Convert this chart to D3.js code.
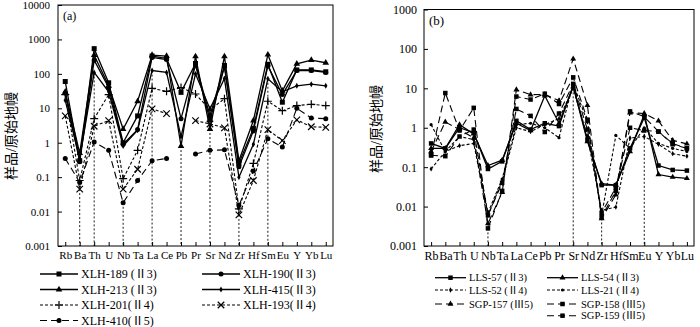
<!DOCTYPE html>
<html>
<head>
<meta charset="utf-8">
<script src="https://cdn.jsdelivr.net/npm/d3@7"></script>
<style>
  body { margin: 0; background: #fff; }
  svg text { font-family: "Liberation Serif", "Noto Sans CJK SC", serif; fill: #000; }
</style>
</head>
<body>
<div id="chart"></div>
<script>
// trace elements on the x axis (same for both panels)
const elements = ["Rb","Ba","Th","U","Nb","Ta","La","Ce","Pb","Pr","Sr","Nd","Zr","Hf","Sm","Eu","Y","Yb","Lu"];

const yTicksA = [0.001, 0.01, 0.1, 1, 10, 100, 1000, 10000];
const yTicksB = [0.001, 0.01, 0.1, 1, 10, 100, 1000];

// panel (a) samples
const xlh189 = [60,0.3,540,55,1.0,6,330,280,29,200,6,175,0.25,2.6,190,15,130,130,115];
const xlh190 = [28,0.28,250,40,0.9,2.4,300,260,5,180,4.5,160,0.2,2.2,170,25,125,125,110];
const xlh213 = [30,0.5,350,45,2.5,16,350,330,0.8,320,2.5,320,0.3,4.4,360,32,195,250,210];
const xlh415 = [17,0.35,110,30,0.8,2.3,125,110,1.5,100,9.6,73,0.1,0.9,72,30,45,50,45];
const xlh201 = [25,0.08,5,25,0.09,0.6,38,31,40,26,9,19,0.012,0.25,16,8.5,12,13,12];
const xlh193 = [6,0.045,3,4.4,0.045,0.17,9.6,7,null,4.4,3.5,2.7,0.008,0.08,2.4,1.15,4.6,2.9,2.8];
const xlh410 = [0.35,0.07,1.05,0.6,0.018,0.08,0.3,0.35,null,0.47,0.6,0.62,0.015,0.15,1.3,0.75,10,5.2,5];

// panel (b) samples
const lls57  = [0.4,0.3,1.0,0.75,0.09,0.14,1.5,0.9,1.3,1.1,12,0.5,0.035,0.035,0.3,1.8,0.11,0.085,0.082];
const lls54  = [0.3,0.3,1.2,0.7,0.11,0.15,1.3,0.85,6.5,1.3,11,0.45,0.038,0.035,0.25,2.2,0.065,0.056,0.052];
const lls52  = [0.09,0.25,0.35,0.4,0.006,0.045,1.0,0.8,1.2,1.7,10,0.6,0.008,0.0097,0.55,0.6,0.38,0.22,0.19];
const lls21  = [1.2,0.25,0.6,0.5,0.007,0.05,1.2,1.3,1.0,0.56,13,1.4,0.006,0.64,0.3,1.0,0.4,0.3,0.25];
const sgp157 = [0.25,1.4,0.9,0.55,0.0037,0.023,9.2,6.9,7,4.9,56,3.7,0.005,0.02,2.4,2.3,1.5,0.48,0.39];
const sgp158 = [0.2,7.6,0.85,3.2,0.0028,0.025,6.2,5.2,7.3,4.0,19,1.6,0.0054,0.025,2.6,1.9,0.8,0.38,0.3];
const sgp159 = [0.2,0.19,0.6,0.9,0.006,0.04,3.0,2.0,0.78,2.3,13,0.9,0.007,0.03,1.0,0.85,0.8,0.4,0.3];

// vertical dotted drop lines: element and the value they start from
const dropA = [["Ba",0.045],["Th",110],["Nb",0.018],["La",125],["Pb",0.8],["Sr",2.5],["Zr",0.008],["Sm",72]];
const dropB = [["Nb",0.0028],["Sr",10],["Zr",0.005],["Eu",0.7]];

const DASH = { solid: null, short: "3,2", long: "7,4" };

const seriesA = [
  { name: "XLH-189 (Ⅱ3)", values: xlh189, dash: "solid", mark: "square" },
  { name: "XLH-190(Ⅱ3)",  values: xlh190, dash: "solid", mark: "circle" },
  { name: "XLH-213 (Ⅱ3)", values: xlh213, dash: "solid", mark: "triangle" },
  { name: "XLH-415(Ⅱ3)",  values: xlh415, dash: "solid", mark: "diamond" },
  { name: "XLH-201(Ⅱ4)",  values: xlh201, dash: "short", mark: "plus" },
  { name: "XLH-193(Ⅱ4)",  values: xlh193, dash: "short", mark: "x" },
  { name: "XLH-410(Ⅱ5)",  values: xlh410, dash: "long",  mark: "circle" }
];

const seriesB = [
  { name: "LLS-57 (Ⅱ3)",   values: lls57,  dash: "solid", mark: "square" },
  { name: "LLS-54 (Ⅱ3)",   values: lls54,  dash: "solid", mark: "triangle" },
  { name: "LLS-52 (Ⅱ4)",   values: lls52,  dash: "short", mark: "diamond" },
  { name: "LLS-21  (Ⅱ4)",  values: lls21,  dash: "short", mark: "dot" },
  { name: "SGP-157 (Ⅲ5)",  values: sgp157, dash: "long",  mark: "triangle" },
  { name: "SGP-158 (Ⅲ5)",  values: sgp158, dash: "long",  mark: "square" },
  { name: "SGP-159 (Ⅲ5)",  values: sgp159, dash: "long",  mark: "square" }
];

const svg = d3.select("#chart").append("svg")
  .attr("width", 700).attr("height", 327);

// draws a marker of the given kind at (0,0) inside g
function drawMark(g, kind, s) {
  if (kind === "square") {
    g.append("rect").attr("x", -s/2).attr("y", -s/2).attr("width", s).attr("height", s).attr("fill", "#000");
  } else if (kind === "circle") {
    g.append("circle").attr("r", s/2).attr("fill", "#000");
  } else if (kind === "dot") {
    g.append("circle").attr("r", s/2.8).attr("fill", "#000");
  } else if (kind === "triangle") {
    g.append("path").attr("d", d3.symbol(d3.symbolTriangle, s*s*0.75)()).attr("fill", "#000");
  } else if (kind === "diamond") {
    g.append("path").attr("d", d3.symbol(d3.symbolDiamond, s*s*0.4)()).attr("fill", "#000");
  } else if (kind === "plus") {
    const h = s*0.8;
    g.append("path").attr("d", `M${-h},0H${h}M0,${-h}V${h}`).attr("stroke", "#000").attr("stroke-width", 1.2);
  } else if (kind === "x") {
    const h = s*0.65;
    g.append("path").attr("d", `M${-h},${-h}L${h},${h}M${-h},${h}L${h},${-h}`).attr("stroke", "#000").attr("stroke-width", 1.2);
  }
}

function drawPanel(p) {
  const g = svg.append("g");
  const x = d3.scalePoint().domain(elements).range([p.left, p.right]).padding(0.5);
  const y = d3.scaleLog().domain([0.001, p.yMax]).range([p.bottom, p.top]);

  // axes with inward ticks
  g.append("g").attr("transform", `translate(${p.left},0)`)
    .call(d3.axisLeft(y).tickValues(p.ticks).tickFormat(d => String(d))
      .tickSizeInner(-4).tickSizeOuter(0).tickPadding(p.pad))
    .call(a => a.select(".domain").remove())
    .call(a => a.selectAll("text").attr("font-size", p.fs).attr("font-family", "Liberation Serif"));

  g.append("g").attr("transform", `translate(0,${p.bottom})`)
    .call(d3.axisBottom(x).tickSizeInner(-4).tickSizeOuter(0).tickPadding(5))
    .call(a => a.select(".domain").remove())
    .call(a => a.selectAll("text").attr("font-size", p.fs).attr("font-family", "Liberation Serif"));

  g.append("rect")
    .attr("x", p.left).attr("y", p.top)
    .attr("width", p.right - p.left).attr("height", p.bottom - p.top)
    .attr("fill", "none").attr("stroke", "#000").attr("stroke-width", 1);

  // drop lines
  g.selectAll(".drop").data(p.drops).enter().append("line")
    .attr("x1", d => x(d[0])).attr("x2", d => x(d[0]))
    .attr("y1", d => y(d[1])).attr("y2", p.bottom)
    .attr("stroke", "#000").attr("stroke-width", 0.9).attr("stroke-dasharray", "2,2");

  const line = d3.line()
    .defined(d => d.v != null)
    .x(d => x(d.el)).y(d => y(d.v));

  p.series.forEach(s => {
    const pts = elements.map((el, i) => ({ el, v: s.values[i] }));
    g.append("path").datum(pts)
      .attr("d", line)
      .attr("fill", "none").attr("stroke", "#000")
      .attr("stroke-width", s.dash === "solid" ? 1.3 : 1.1)
      .attr("stroke-dasharray", DASH[s.dash]);
    pts.filter(d => d.v != null).forEach(d => {
      const m = g.append("g").attr("transform", `translate(${x(d.el)},${y(d.v)})`);
      drawMark(m, s.mark, p.ms);
    });
  });

  g.append("text").attr("x", p.left + 5).attr("y", p.top + 15)
    .attr("font-size", p.fs + 1).text(p.label);

  g.append("text")
    .attr("transform", `translate(${p.titleX},${p.titleY}) rotate(-90)`)
    .attr("text-anchor", "middle")
    .attr("font-family", "Noto Sans CJK SC").attr("font-size", 14).attr("fill", "#333")
    .text("样品/原始地幔");

  // legend
  p.legend.forEach((pos, i) => {
    const s = p.series[i];
    const lg = g.append("g");
    lg.append("line").attr("x1", pos[0]).attr("x2", pos[0] + p.legLen)
      .attr("y1", pos[1]).attr("y2", pos[1])
      .attr("stroke", "#000").attr("stroke-width", s.dash === "solid" ? 1.3 : 1.1)
      .attr("stroke-dasharray", DASH[s.dash]);
    drawMark(lg.append("g").attr("transform", `translate(${pos[0] + p.legLen / 2},${pos[1]})`), s.mark, p.ms);
    lg.append("text").attr("x", pos[0] + p.legLen + 3).attr("y", pos[1])
      .attr("dy", "0.35em").attr("font-size", p.legFs).text(s.name);
  });
}

drawPanel({
  left: 58, right: 333, top: 5, bottom: 246, yMax: 10000, ticks: yTicksA,
  fs: 11, pad: 8, ms: 5, label: "(a)", titleX: 15.5, titleY: 136, drops: dropA, series: seriesA,
  legLen: 38, legFs: 12,
  legend: [[40,274],[202,274],[40,289.5],[202,289.5],[40,305],[202,305],[40,320.5]]
});

drawPanel({
  left: 424, right: 694, top: 9.5, bottom: 246, yMax: 1000, ticks: yTicksB,
  fs: 12, pad: 7, ms: 4.5, label: "(b)", titleX: 380.5, titleY: 129, drops: dropB, series: seriesB,
  legLen: 31, legFs: 10.5,
  legend: [[435,277.7],[547,277.7],[435,290],[547,290],[435,304],[547,304],[547,315.7]]
});
</script>
</body>
</html>
